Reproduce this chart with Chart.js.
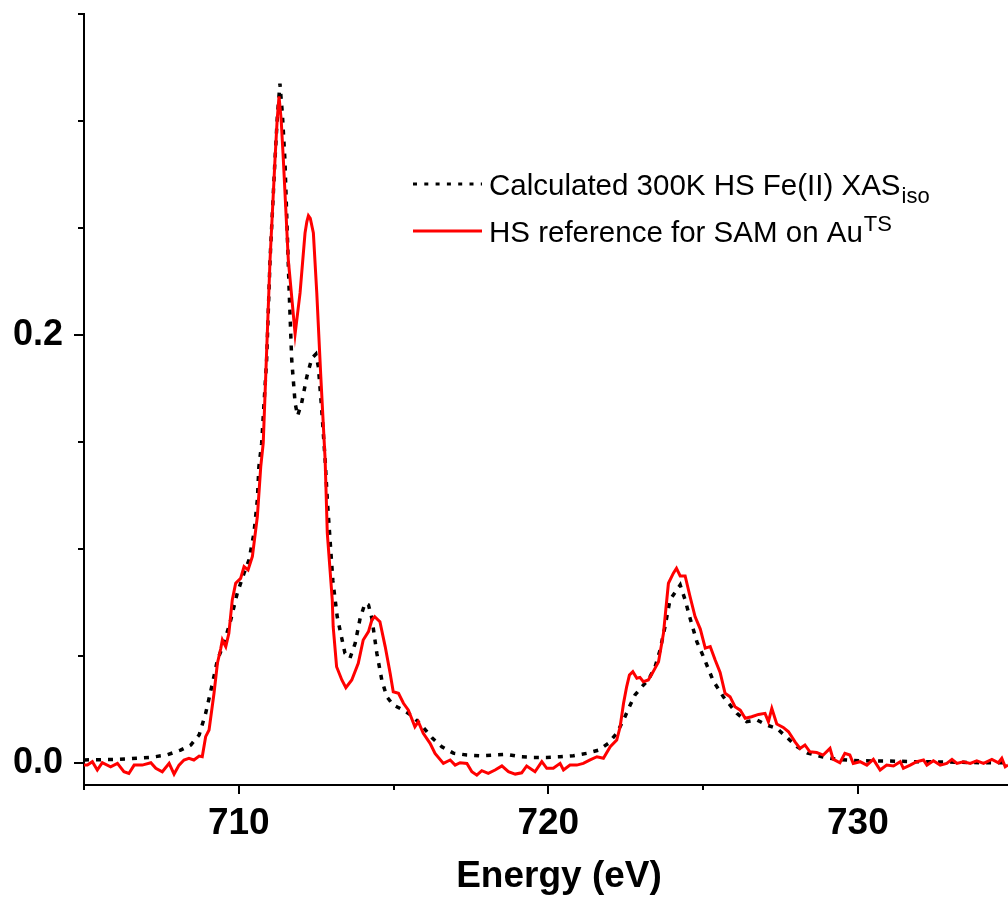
<!DOCTYPE html>
<html>
<head>
<meta charset="utf-8">
<script src="https://cdn.jsdelivr.net/npm/chart.js@4.4.1/dist/chart.umd.min.js"></script>
<style>
  html, body { margin: 0; padding: 0; background: #fff; overflow: hidden; }
  canvas { display: block; }
</style>
</head>
<body>
<canvas id="xasChart" width="1008" height="899"></canvas>
<script>
// Fe L-edge XAS: calculated HS Fe(II) spectrum vs. measured SAM reference
const calcLabel = 'Calculated 300K HS Fe(II) XAS';
const calcScript = 'iso';
const refLabel = 'HS reference for SAM on Au';
const refScript = 'TS';

const calcEnergy = [
  705.00, 706.08, 707.16, 707.69, 708.12, 708.45, 708.72, 708.93, 709.15, 709.31,
  709.52, 709.74, 709.95, 710.17, 710.33, 710.49, 710.60, 710.65, 710.74, 710.90,
  711.01, 711.17, 711.25, 711.33, 711.41, 711.49, 711.63, 711.71, 711.82, 711.90,
  712.03, 712.20, 712.36, 712.49, 712.57, 712.68, 712.79, 712.86, 713.04, 713.18,
  713.27, 713.43, 713.59, 713.76, 713.92, 714.08, 714.19, 714.30, 714.46, 714.62,
  714.78, 714.99, 715.32, 715.64, 715.96, 716.26, 716.56, 716.93, 717.37, 717.79,
  718.22, 718.66, 719.09, 719.52, 719.95, 720.38, 720.81, 721.24, 721.62, 721.94,
  722.21, 722.43, 722.62, 722.80, 723.02, 723.23, 723.45, 723.61, 723.77, 723.93,
  724.15, 724.26, 724.42, 724.58, 724.80, 725.01, 725.33, 725.66, 726.09, 726.41,
  726.74, 727.06, 727.38, 727.71, 728.03, 728.38, 728.84, 729.36, 730.07, 730.93,
  731.90, 732.98, 734.06, 734.85
];
const calcIntensity = [
  0.0013, 0.0016, 0.0025, 0.0037, 0.0059, 0.0083, 0.0130, 0.0231, 0.0371, 0.0480,
  0.0558, 0.0667, 0.0792, 0.0886, 0.0948, 0.1073, 0.1229, 0.1384, 0.1494, 0.1884,
  0.2351, 0.2819, 0.3030, 0.3174, 0.3030, 0.2819, 0.2196, 0.1884, 0.1681, 0.1622,
  0.1681, 0.1805, 0.1891, 0.1910, 0.1852, 0.1650, 0.1416, 0.1229, 0.0850, 0.0683,
  0.0621, 0.0512, 0.0488, 0.0558, 0.0675, 0.0746, 0.0738, 0.0675, 0.0512, 0.0387,
  0.0309, 0.0270, 0.0246, 0.0215, 0.0165, 0.0114, 0.0075, 0.0045, 0.0036, 0.0033,
  0.0036, 0.0039, 0.0028, 0.0025, 0.0025, 0.0028, 0.0033, 0.0044, 0.0059, 0.0091,
  0.0138, 0.0200, 0.0262, 0.0317, 0.0355, 0.0387, 0.0449, 0.0527, 0.0636, 0.0761,
  0.0808, 0.0831, 0.0761, 0.0675, 0.0565, 0.0496, 0.0382, 0.0307, 0.0231, 0.0192,
  0.0200, 0.0176, 0.0161, 0.0118, 0.0075, 0.0045, 0.0028, 0.0015, 0.0009, 0.0008,
  0.0005, 0.0003, 0.0000, 0.0000
];

const refEnergy = [
  705.00, 705.11, 705.27, 705.43, 705.59, 705.86, 706.08, 706.29, 706.45, 706.62,
  706.88, 707.16, 707.32, 707.53, 707.75, 707.91, 708.07, 708.23, 708.39, 708.55,
  708.72, 708.82, 708.93, 709.04, 709.20, 709.31, 709.42, 709.47, 709.58, 709.68,
  709.79, 709.90, 710.06, 710.17, 710.30, 710.44, 710.60, 710.71, 710.79, 711.01,
  711.17, 711.24, 711.30, 711.37, 711.44, 711.60, 711.82, 711.98, 712.14, 712.20, 712.25,
  712.31, 712.41, 712.52, 712.65, 712.79, 712.86, 713.02, 713.05, 713.16, 713.33,
  713.46, 713.65, 713.86, 714.02, 714.19, 714.30, 714.39, 714.56, 714.73, 714.89,
  714.99, 715.16, 715.32, 715.48, 715.69, 715.80, 715.96, 716.18, 716.34, 716.61,
  716.83, 716.99, 717.15, 717.37, 717.53, 717.69, 717.85, 718.06, 718.28, 718.50,
  718.71, 718.93, 719.14, 719.30, 719.57, 719.79, 719.95, 720.16, 720.38, 720.49,
  720.70, 720.92, 721.13, 721.35, 721.57, 721.78, 722.00, 722.21, 722.32, 722.43,
  722.53, 722.62, 722.73, 722.86, 722.96, 723.07, 723.23, 723.39, 723.56, 723.72,
  723.88, 724.04, 724.14, 724.26, 724.42, 724.58, 724.74, 724.91, 725.07, 725.23,
  725.39, 725.55, 725.71, 725.87, 726.03, 726.20, 726.36, 726.57, 726.79, 727.00,
  727.11, 727.22, 727.38, 727.59, 727.76, 727.97, 728.13, 728.29, 728.45, 728.67,
  728.88, 729.10, 729.20, 729.42, 729.58, 729.74, 729.85, 730.07, 730.29, 730.50,
  730.72, 730.93, 731.15, 731.37, 731.47, 731.69, 731.90, 732.12, 732.23, 732.44,
  732.66, 732.87, 733.04, 733.20, 733.41, 733.63, 733.84, 734.06, 734.33, 734.54,
  734.65, 734.76, 734.85
];
const refIntensity = [
  -0.0011, -0.0011, 0.0005, -0.0034, 0.0000, -0.0019, -0.0003, -0.0042, -0.0050, -0.0011,
  -0.0011, 0.0000, -0.0026, -0.0042, -0.0003, -0.0053, -0.0011, 0.0013, 0.0021, 0.0013,
  0.0031, 0.0028, 0.0122, 0.0153, 0.0325, 0.0465, 0.0535, 0.0574, 0.0543, 0.0605,
  0.0761, 0.0839, 0.0862, 0.0917, 0.0901, 0.0964, 0.1151, 0.1384, 0.1494, 0.2351,
  0.2819, 0.3005, 0.3115, 0.3005, 0.2819, 0.2351, 0.2005, 0.2196, 0.2476, 0.2530, 0.2557,
  0.2545, 0.2476, 0.2196, 0.1805, 0.1416, 0.1073, 0.0761, 0.0636, 0.0449, 0.0387,
  0.0351, 0.0387, 0.0465, 0.0574, 0.0613, 0.0667, 0.0683, 0.0659, 0.0543, 0.0418,
  0.0332, 0.0325, 0.0278, 0.0246, 0.0168, 0.0192, 0.0138, 0.0091, 0.0044, -0.0003,
  0.0013, -0.0011, 0.0000, -0.0003, -0.0042, -0.0058, -0.0037, -0.0050, -0.0034, -0.0015,
  -0.0042, -0.0053, -0.0047, -0.0015, -0.0042, 0.0005, -0.0026, -0.0026, -0.0003, -0.0034,
  -0.0011, -0.0011, -0.0003, 0.0013, 0.0028, 0.0021, 0.0075, 0.0106, 0.0168, 0.0278,
  0.0355, 0.0410, 0.0426, 0.0395, 0.0399, 0.0379, 0.0387, 0.0426, 0.0472, 0.0605,
  0.0839, 0.0886, 0.0909, 0.0873, 0.0873, 0.0776, 0.0683, 0.0625, 0.0536, 0.0543,
  0.0480, 0.0422, 0.0325, 0.0309, 0.0262, 0.0246, 0.0208, 0.0215, 0.0226, 0.0231,
  0.0192, 0.0254, 0.0181, 0.0165, 0.0145, 0.0098, 0.0067, 0.0083, 0.0051, 0.0048,
  0.0036, 0.0067, 0.0017, 0.0000, 0.0044, 0.0036, -0.0003, 0.0005, -0.0011, 0.0016,
  -0.0034, -0.0011, -0.0015, 0.0005, -0.0026, -0.0011, 0.0005, 0.0013, -0.0011, 0.0009,
  -0.0011, -0.0003, 0.0016, -0.0003, 0.0005, -0.0003, 0.0009, -0.0003, 0.0016, 0.0000,
  0.0021, -0.0019, -0.0011
];

// axis ticks: every value gets a mark, only the listed ones get a label
const xTicks = [705, 710, 715, 720, 725, 730, 735];
const xLabelled = [710, 720, 730];
const yTicks = [0, 0.05, 0.1, 0.15, 0.2, 0.25, 0.3, 0.35];
const yLabelled = [0, 0.2];

const FONT = "'Liberation Sans', Arial, Helvetica, sans-serif";
const isIn = (list, v) => list.some(t => Math.abs(t - v) < 1e-9);
const toPoints = (xs, ys) => xs.map((x, i) => ({ x: x, y: ys[i] }));

// outward tick marks, long for labelled values and short otherwise
const tickMarks = {
  id: 'tickMarks',
  afterDraw(chart) {
    const { ctx, chartArea, scales: { x, y } } = chart;
    ctx.save();
    ctx.strokeStyle = '#000';
    ctx.lineWidth = 2;
    ctx.beginPath();
    xTicks.forEach(v => {
      if (v < x.min || v > x.max) return;
      const px = Math.round(x.getPixelForValue(v));
      const len = isIn(xLabelled, v) ? 9 : 5;
      ctx.moveTo(px, chartArea.bottom);
      ctx.lineTo(px, chartArea.bottom + len);
    });
    yTicks.forEach(v => {
      if (v < y.min || v > y.max) return;
      const py = Math.round(y.getPixelForValue(v));
      const len = isIn(yLabelled, v) ? 10 : 6;
      ctx.moveTo(chartArea.left, py);
      ctx.lineTo(chartArea.left - len, py);
    });
    ctx.stroke();
    ctx.restore();
  }
};

// x axis title
const axisTitle = {
  id: 'axisTitle',
  afterDraw(chart) {
    const ctx = chart.ctx;
    ctx.save();
    ctx.fillStyle = '#000';
    ctx.font = `bold 37px ${FONT}`;
    ctx.textAlign = 'center';
    ctx.textBaseline = 'alphabetic';
    ctx.fillText('Energy (eV)', 559, 887);
    ctx.restore();
  }
};

// legend with sub/superscripts
const seriesKey = {
  id: 'seriesKey',
  afterDraw(chart) {
    const ctx = chart.ctx;
    const rows = [
      { lineY: 184, base: 195, color: '#000', dash: [4, 7.3], width: 3, text: calcLabel, script: calcScript, shift: 8 },
      { lineY: 231, base: 242, color: '#ff0000', dash: [], width: 3, text: refLabel, script: refScript, shift: -11 }
    ];
    ctx.save();
    rows.forEach(r => {
      ctx.beginPath();
      ctx.setLineDash(r.dash);
      ctx.lineWidth = r.width;
      ctx.strokeStyle = r.color;
      ctx.moveTo(413, r.lineY);
      ctx.lineTo(482, r.lineY);
      ctx.stroke();
      ctx.setLineDash([]);
      ctx.fillStyle = '#000';
      ctx.textAlign = 'left';
      ctx.textBaseline = 'alphabetic';
      ctx.font = `29.5px ${FONT}`;
      ctx.fillText(r.text, 489, r.base);
      const w = ctx.measureText(r.text).width;
      ctx.font = `22px ${FONT}`;
      ctx.fillText(r.script, 489 + w + 1, r.base + r.shift);
    });
    ctx.restore();
  }
};

const ctx = document.getElementById('xasChart').getContext('2d');
new Chart(ctx, {
  type: 'line',
  data: {
    datasets: [
      {
        label: refLabel + refScript,
        data: toPoints(refEnergy, refIntensity),
        borderColor: '#ff0000',
        borderWidth: 3,
        pointRadius: 0,
        tension: 0,
        order: 0
      },
      {
        label: calcLabel + calcScript,
        data: toPoints(calcEnergy, calcIntensity),
        borderColor: '#000',
        borderWidth: 3.5,
        borderDash: [5, 7],
        pointRadius: 0,
        tension: 0,
        order: 1
      }
    ]
  },
  options: {
    responsive: false,
    animation: false,
    devicePixelRatio: 1,
    layout: { padding: { top: 14, right: 0, bottom: 0, left: 0 } },
    plugins: {
      legend: { display: false },
      tooltip: { enabled: false }
    },
    scales: {
      x: {
        type: 'linear',
        min: 705,
        max: 734.85,
        afterBuildTicks: s => { s.ticks = xTicks.map(v => ({ value: v })); },
        afterFit: s => { s.height = 114; s.paddingLeft = 0; s.paddingRight = 0; },
        grid: { display: false, drawTicks: false },
        border: { display: true, color: '#000', width: 2 },
        ticks: {
          autoSkip: false,
          maxRotation: 0,
          padding: 17,
          color: '#000',
          font: { family: FONT, size: 37, weight: 'bold' },
          callback: v => isIn(xLabelled, v) ? String(v) : ''
        }
      },
      y: {
        type: 'linear',
        min: -0.0104,
        max: 0.35,
        afterBuildTicks: s => { s.ticks = yTicks.map(v => ({ value: v })); },
        afterFit: s => { s.width = 84; s.paddingTop = 0; s.paddingBottom = 0; },
        grid: { display: false, drawTicks: false },
        border: { display: true, color: '#000', width: 2 },
        ticks: {
          autoSkip: false,
          padding: 21,
          color: '#000',
          font: { family: FONT, size: 36, weight: 'bold' },
          callback: v => isIn(yLabelled, v) ? v.toFixed(1) : ''
        }
      }
    }
  },
  plugins: [tickMarks, axisTitle, seriesKey]
});
</script>
</body>
</html>
